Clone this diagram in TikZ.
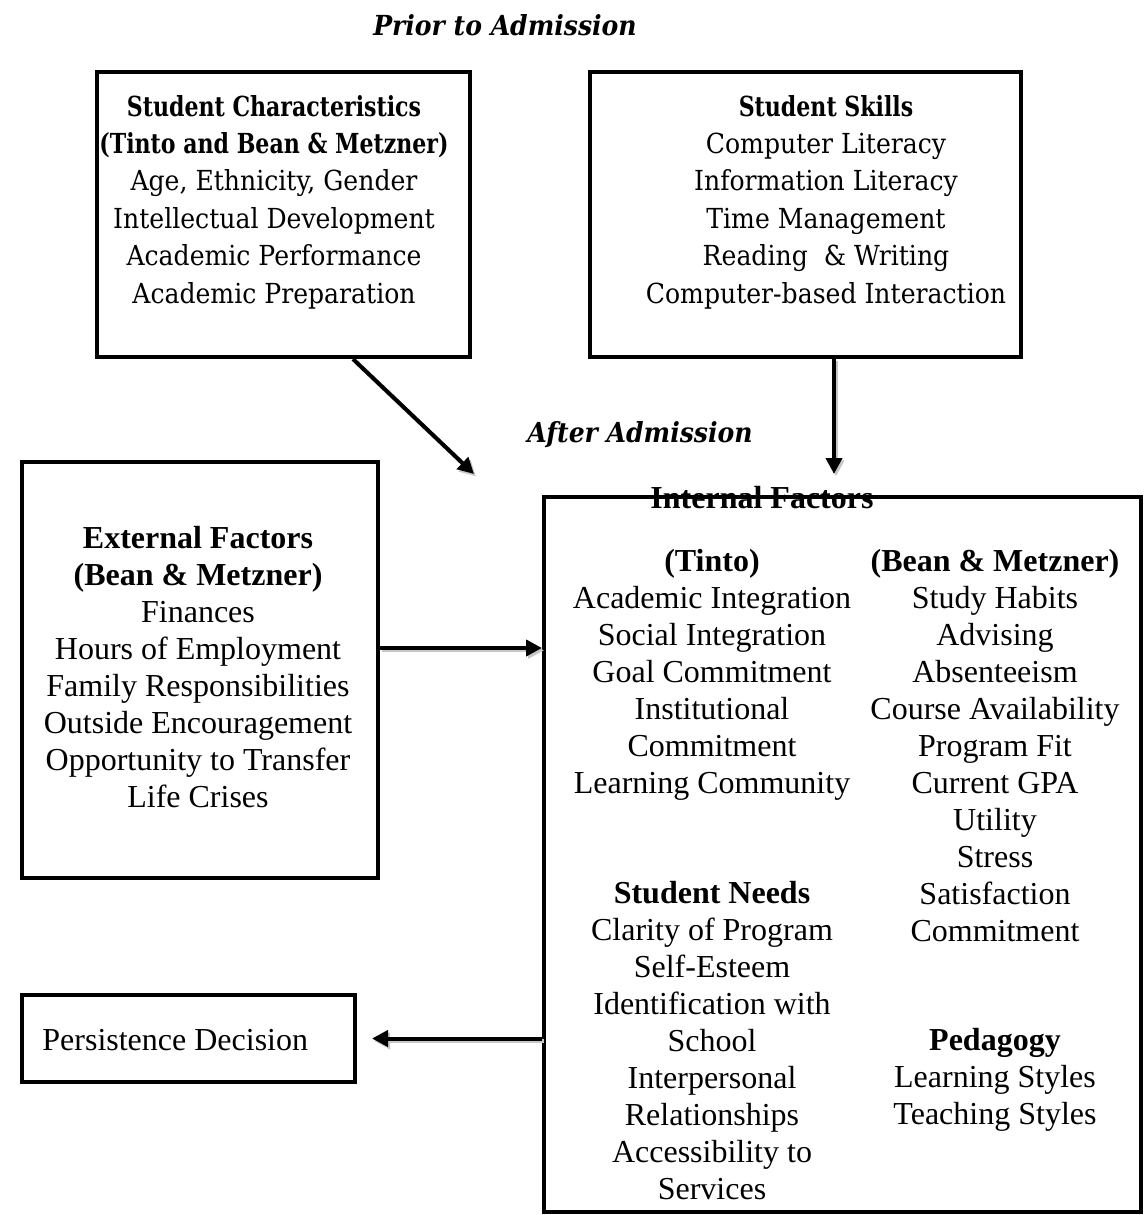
\documentclass[tikz,border=0pt]{standalone}
\usepackage{fontspec}
\setmainfont{Liberation Serif}
\newfontfamily\skillfont[FakeStretch=0.91, BoldFeatures={FakeStretch=0.8}]{DejaVu Serif}
\usetikzlibrary{arrows.meta}

\begin{document}
\begin{tikzpicture}[x=0.5pt, y=-0.5pt,
    frame/.style={draw, line width=2pt, inner sep=0pt},
    body/.style={align=center, inner sep=0pt, anchor=base,
      font=\fontsize{16}{18.5}\selectfont},
    skills/.style={align=center, inner sep=0pt, anchor=base,
      font=\skillfont\fontsize{13.8}{18.7}\selectfont},
    phase/.style={inner sep=0pt, anchor=base,
      font=\skillfont\bfseries\itshape\fontsize{13.8}{15}\selectfont},
    link/.style={-{Triangle[length=8pt,width=8pt]}, line width=2pt},
    linkshadow/.style={link, draw=black!22, fill=black!22,
      transform canvas={shift={(1pt,-1.2pt)}}}
  ]
    \useasboundingbox (0,0) rectangle (1145,1215);

    % boxes
    \node[frame, minimum width=186.5pt, minimum height=142.5pt] (chars) at (283.5,214.5) {};
    \node[frame, minimum width=215.5pt, minimum height=142.5pt] (skills) at (805.5,214.5) {};
    \node[frame, minimum width=178pt, minimum height=208pt] (external) at (200,670) {};
    \node[frame, minimum width=298.5pt, minimum height=357.5pt] (internal) at (842.5,854.5) {};
    \node[frame, minimum width=166.5pt, minimum height=43.5pt] (persist) at (188.5,1038.5) {};
    \coordinate (tip1) at (474,474);
    \coordinate (tip2) at (834,474);

    % arrows
    \draw[linkshadow] ([xshift=34.75pt]chars.south) -- (tip1);
    \draw[link] ([xshift=34.75pt]chars.south) -- (tip1);
    \draw[linkshadow] ([xshift=14.25pt]skills.south) -- (tip2);
    \draw[link] ([xshift=14.25pt]skills.south) -- (tip2);
    \draw[linkshadow] ([yshift=11pt]external.east) -- ([yshift=11pt]external.east -| internal.west);
    \draw[link] ([yshift=11pt]external.east) -- ([yshift=11pt]external.east -| internal.west);
    \draw[linkshadow] (internal.west |- persist.east) -- ([xshift=7.5pt]persist.east);
    \draw[link] (internal.west |- persist.east) -- ([xshift=7.5pt]persist.east);

    % texts (base = last line)
    \node[phase] (prior) at (505,35) {Prior to Admission};
    \node[phase] (after) at (640,442) {After Admission};
    \node[skills] (charstext) at (274,303) {\textbf{Student Characteristics}\\
      \textbf{(Tinto and Bean \& Metzner)}\\Age, Ethnicity, Gender\\
      Intellectual Development\\Academic Performance\\Academic Preparation};
    \node[skills] (skillstext) at (826,303) {\textbf{Student Skills}\\Computer Literacy\\
      Information Literacy\\Time Management\\Reading~ \& Writing\\
      Computer-based Interaction};
    \node[body] (exttext) at (198,807) {\textbf{External Factors}\\\textbf{(Bean \& Metzner)}\\
      Finances\\Hours of Employment\\Family Responsibilities\\Outside Encouragement\\
      Opportunity to Transfer\\Life Crises};
    \node[body, font=\fontsize{16}{18.5}\selectfont\bfseries] (inttitle) at (762,508) {Internal Factors};
    \node[body] (tinto) at (712,793) {\textbf{(Tinto)}\\Academic Integration\\Social Integration\\
      Goal Commitment\\Institutional\\Commitment\\Learning Community};
    \node[body] (bean) at (995,941) {\textbf{(Bean \& Metzner)}\\Study Habits\\Advising\\
      Absenteeism\\Course Availability\\Program Fit\\Current GPA\\Utility\\Stress\\
      Satisfaction\\Commitment};
    \node[body] (needs) at (712,1199) {\textbf{Student Needs}\\Clarity of Program\\Self-Esteem\\
      Identification with\\School\\Interpersonal\\Relationships\\Accessibility to\\Services};
    \node[body] (pedagogy) at (995,1124) {\textbf{Pedagogy}\\Learning Styles\\Teaching Styles};
    \node[body, anchor=base west] (persisttext) at (42,1050) {Persistence Decision};
  \end{tikzpicture}
\end{document}
